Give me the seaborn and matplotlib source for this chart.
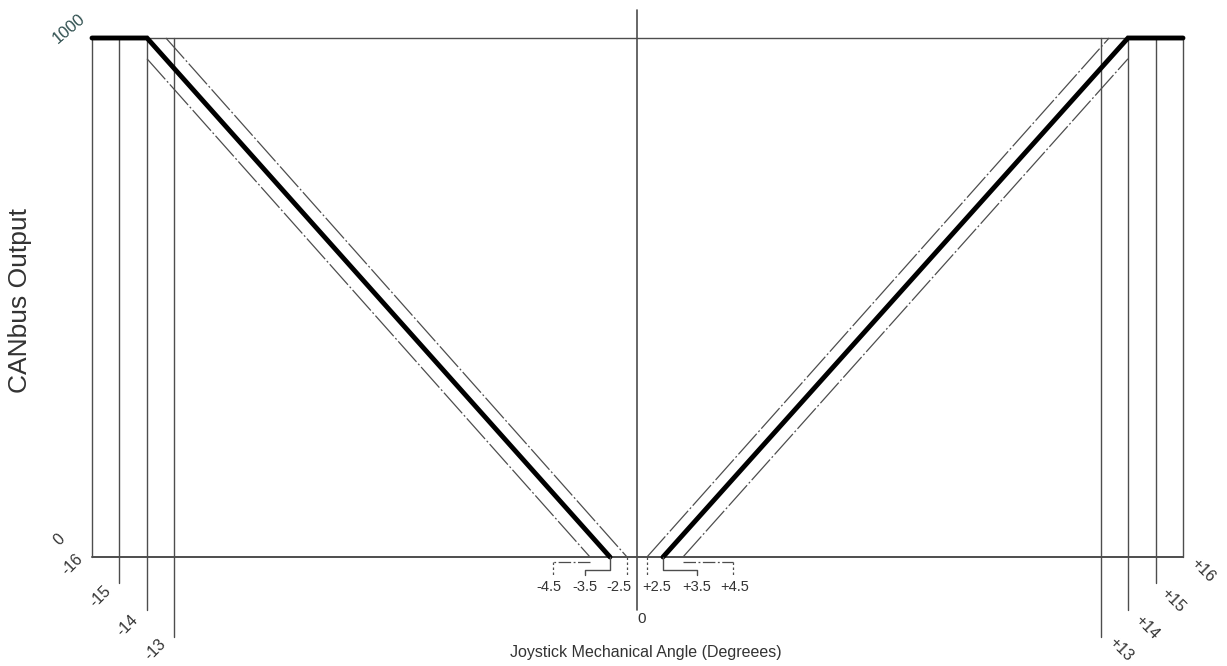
import numpy as np
import pandas as pd
import matplotlib
matplotlib.use("Agg")
import matplotlib.pyplot as plt
import seaborn as sns
from matplotlib.lines import Line2D
from matplotlib.transforms import IdentityTransform

# ---------------- data (angles in degrees, CANbus output 0..1000) ----------------
nominal_left_angle = [-16, -14, -3.5]
nominal_left_out = [1000, 1000, 0]
nominal_right_angle = [3.5, 14, 16]
nominal_right_out = [0, 1000, 1000]

tol_outer_left_angle = [-14, -4.5]
tol_outer_left_out = [960, 0]
tol_inner_left_angle = [-13.3, -2.5]
tol_inner_left_out = [1000, 0]
tol_inner_right_angle = [2.5, 13.3]
tol_inner_right_out = [0, 1000]
tol_outer_right_angle = [4.5, 14]
tol_outer_right_out = [0, 960]

outer_ticks = [-16, -15, -14, -13, 13, 14, 15, 16]
outer_labels = ["-16", "-15", "-14", "-13", "+13", "+14", "+15", "+16"]
deadband_ticks = [-4.5, -3.5, -2.5, 2.5, 3.5, 4.5]
deadband_labels = ["-4.5", "-3.5", "-2.5", "+2.5", "+3.5", "+4.5"]
y_ticks = [0, 1000]
y_labels = ["0", "1000"]

# ---------------- layout (schematic, not-to-scale x axis) ----------------
knot_angle = [-20, -16, -15, -14, -13, -4.5, -3.5, -2.5, 0, 2.5, 3.5, 4.5, 13, 14, 15, 16, 20]
knot_pos = [-17.2, 92, 119, 147, 174, 590, 610, 627, 637, 647, 663, 683, 1101, 1128, 1156, 1183, 1292.2]
ext_bottom = {16: 0, 15: -50, 14: -102, 13: -154}   # extension line ends (output units)

def fwd(a):
    return np.interp(a, knot_angle, knot_pos)

def inv(p):
    return np.interp(p, knot_pos, knot_angle)

sns.set_theme(style="white")
plt.rcParams["font.family"] = ["Liberation Sans", "DejaVu Sans"]

W, H, DPI = 1227, 666, 100
fig = plt.figure(figsize=(W / DPI, H / DPI), dpi=DPI)
ax = fig.add_axes([0, 0, 1, 1])
ax.set_xscale("function", functions=(fwd, inv))
ax.set_xlim(float(inv(0)), float(inv(W)))
ax.set_ylim(-(H - 557) * 1000 / 519, 557 * 1000 / 519)
ax.axis("off")

frame_c = "#4d4d4d"
txt_c = "#333333"

# frame: top / bottom lines, centre line, outer verticals
ax.plot([-16, 16], [1000, 1000], color=frame_c, lw=1.0)
ax.plot([-16, 16], [0, 0], color=frame_c, lw=1.4)
ax.plot([0, 0], [1054, -102], color=frame_c, lw=1.2)
for t in outer_ticks:
    ax.plot([t, t], [1000, ext_bottom[abs(t)]], color=frame_c, lw=1.0)

# tolerance (dash-dot) lines
dashdot = (0, (22, 2, 1.5, 2))
for xs, ys in [(tol_outer_left_angle, tol_outer_left_out),
               (tol_inner_left_angle, tol_inner_left_out),
               (tol_inner_right_angle, tol_inner_right_out),
               (tol_outer_right_angle, tol_outer_right_out)]:
    sns.lineplot(x=xs, y=ys, ax=ax, color=frame_c, lw=0.9, linestyle=dashdot,
                 estimator=None, sort=False, legend=False)

# nominal (thick) lines
for xs, ys in [(nominal_left_angle, nominal_left_out), (nominal_right_angle, nominal_right_out)]:
    sns.lineplot(x=xs, y=ys, ax=ax, color="black", lw=3.5, estimator=None, sort=False,
                 legend=False, solid_capstyle="round", solid_joinstyle="miter")

fig.canvas.draw()

def leader(angle, offs, **kw):
    x0, y0 = ax.transData.transform((angle, 0))
    xs = [x0 + dx for dx, dy in offs]
    ys = [y0 - dy for dx, dy in offs]
    ax.add_line(Line2D(xs, ys, transform=IdentityTransform(), **kw))

# deadband leaders (pixel offsets: dx right, dy down)
short_dash = (0, (2, 2))
leaders = {
    -4.5: [([(0, 5), (-37, 5)], dict(ls=(0, (10, 2, 1.5, 2)), lw=0.9)), ([(-37, 5), (-37, 18)], dict(ls=short_dash, lw=0.9))],
    -3.5: [([(0, 0), (0, 13), (-25, 13), (-25, 18)], dict(ls="-", lw=1.0))],
    -2.5: [([(0, 0), (0, 18)], dict(ls=short_dash, lw=0.9))],
    2.5: [([(0, 0), (0, 18)], dict(ls=short_dash, lw=0.9))],
    3.5: [([(0, 0), (0, 13), (34, 13), (34, 18)], dict(ls="-", lw=1.0))],
    4.5: [([(0, 5), (50, 5)], dict(ls=(0, (10, 2, 1.5, 2)), lw=0.9)), ([(50, 5), (50, 18)], dict(ls=short_dash, lw=0.9))],
}
label_off = {-4.5: -41, -3.5: -25, -2.5: -8, 2.5: 10, 3.5: 34, 4.5: 52}
for t, lab in zip(deadband_ticks, deadband_labels):
    for offs, kw in leaders[t]:
        leader(t, offs, color=frame_c, **kw)
    ax.annotate(lab, xy=(t, 0), xytext=(label_off[t], -30), textcoords="offset pixels",
                ha="center", va="center", fontsize=10.5, color=txt_c)

# outer rotated tick labels
outer_off = {-16: (-20, -8), -15: (-19, -14), -14: (-20, -16), -13: (-19, -13),
             13: (20, -12), 14: (19, -17), 15: (17, -17), 16: (20, -13)}
for t, lab in zip(outer_ticks, outer_labels):
    rot = 45 if t < 0 else -45
    ax.annotate(lab, xy=(t, ext_bottom[abs(t)]), xytext=outer_off[t], textcoords="offset pixels",
                ha="center", va="center", rotation=rot, fontsize=11.5, color=txt_c)

# centre zero
ax.annotate("0", xy=(0, -102), xytext=(5, -9), textcoords="offset pixels",
            ha="center", va="center", fontsize=11, color=txt_c)

# y value labels
ax.annotate(y_labels[1], xy=(-16, y_ticks[1]), xytext=(-23, 9), textcoords="offset pixels",
            ha="center", va="center", rotation=40, fontsize=12, color="#2f4f4f")
ax.annotate(y_labels[0], xy=(-16, y_ticks[0]), xytext=(-33, 17), textcoords="offset pixels",
            ha="center", va="center", rotation=45, fontsize=11.5, color=txt_c)

# axis titles
fig.text(20 / W, 1 - 300 / H, "CANbus Output", rotation=90, ha="center", va="center",
         fontsize=19, color=txt_c)
fig.text(646 / W, 1 - 652 / H, "Joystick Mechanical Angle (Degreees)", ha="center",
         va="center", fontsize=11.5, color=txt_c)

fig.savefig("out.png", dpi=DPI, facecolor="white")
